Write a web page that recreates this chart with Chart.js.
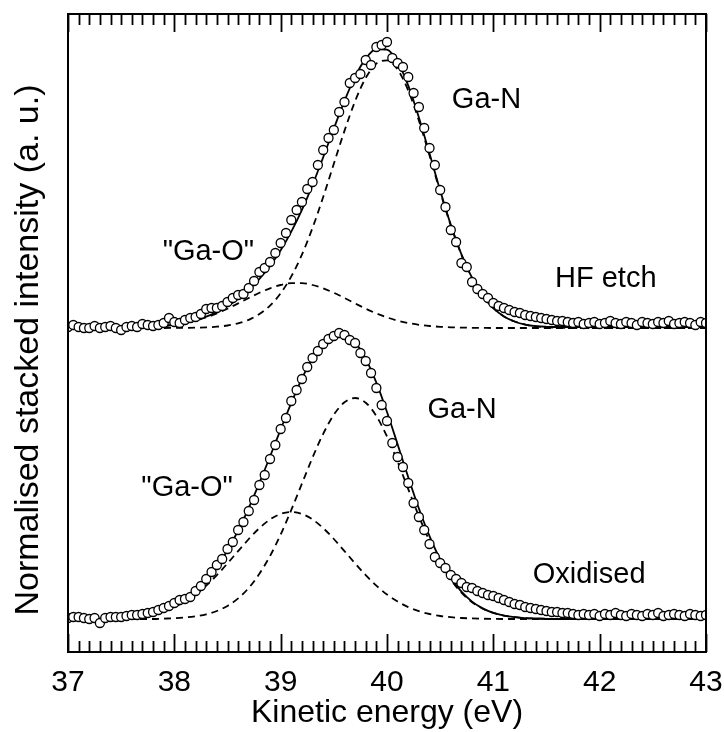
<!DOCTYPE html>
<html>
<head>
<meta charset="utf-8">
<script src="https://cdn.jsdelivr.net/npm/chart.js@4.4.0/dist/chart.umd.min.js"></script>
<style>
  html, body { margin: 0; padding: 0; background: #fff; }
</style>
</head>
<body>
<canvas id="xpsChart" width="724" height="732"></canvas>
<script>
// Ga 3d kinetic energy spectra, HF etch (top) and oxidised (bottom)
const dataStart = 37;
const dataStep = 0.05;
const fitStart = 37;
const fitStep = 0.1;
const xTickLabels = [37, 38, 39, 40, 41, 42, 43];

// stacking offsets (a.u.)
const hfOffset = 324;
const oxOffset = 33;

const hfData = [
  1, 3, 1, 0, 0, 2, 0, 1, 2, 0, -2, 1, 2, 1, 4, 3, 2, 3, 5, 10,
  6, 5, 8, 10, 11, 14, 19, 20, 20, 22, 26, 30, 33, 34, 40, 47, 56, 60, 66, 75,
  85, 95, 108, 118, 126, 139, 146, 163, 178, 190, 198, 216, 226, 245, 250, 254, 268, 263, 281, 283,
  286, 270, 265, 261, 251, 235, 221, 200, 180, 163, 138, 121, 98, 86, 65, 61, 46, 39, 34, 30,
  25, 22, 20, 18, 16, 15, 13, 12, 11, 10, 9, 8, 7, 7, 6, 5, 6, 4, 5, 6,
  4, 5, 7, 5, 4, 6, 5, 3, 6, 5, 4, 6, 5, 7, 4, 5, 6, 5, 3, 6,
  5,
];
const hfFit = [
  0, 0, 0, 0, 0.1, 0.2, 0.4, 0.7, 1.2, 2.0,
  3.3, 5.2, 7.7, 11.3, 15.9, 21.8, 29.3, 38.2, 49.1, 62.1,
  77.7, 96.4, 118.2, 143.2, 170.7, 199.4, 227.1, 251.4, 269.4, 279.0,
  278.3, 265.9, 242.4, 210.6, 174.4, 137.5, 103.2, 73.7, 50.1, 32.3,
  19.9, 11.6, 6.5, 3.4, 1.8, 1.2, 1, 1, 1, 1,
  1, 1, 1, 1, 1, 1, 1, 1, 1, 1, 1,
];
const hfGaN = [
  0, 0, 0, 0, 0, 0, 0, 0, 0, 0,
  0.1, 0.2, 0.3, 0.7, 1.3, 2.5, 4.7, 8.2, 13.9, 22.4,
  34.7, 51.6, 73.4, 100.2, 131.0, 164.2, 197.1, 226.8, 250.1, 264.4,
  267.7, 258.5, 237.4, 207.4, 172.4, 136.3, 102.5, 73.3, 49.9, 32.3,
  19.9, 11.6, 6.5, 3.4, 1.7, 0.8, 0.4, 0.2, 0, 0,
  0, 0, 0, 0, 0, 0, 0, 0, 0, 0, 0,
];
const hfGaO = [
  0, 0, 0, 0, 0.1, 0.2, 0.4, 0.7, 1.2, 2.0,
  3.2, 5.0, 7.4, 10.6, 14.6, 19.3, 24.6, 30.0, 35.2, 39.7,
  43.0, 44.8, 44.8, 43.0, 39.7, 35.2, 30.0, 24.6, 19.3, 14.6,
  10.6, 7.4, 5.0, 3.2, 2.0, 1.2, 0.7, 0.4, 0.2, 0.1,
  0, 0, 0, 0, 0, 0, 0, 0, 0, 0,
  0, 0, 0, 0, 0, 0, 0, 0, 0, 0, 0,
];

const oxData = [
  1, 2, 2, 1, 0, 1, -4, 1, 2, 2, 2, 3, 4, 4, 5, 6, 7, 9, 11, 13,
  16, 19, 20, 22, 28, 33, 40, 47, 54, 60, 70, 77, 89, 97, 108, 119, 134, 144, 160, 174,
  190, 201, 218, 229, 240, 252, 261, 268, 275, 280, 283, 286, 284, 279, 276, 266, 258, 246, 231, 214,
  198, 176, 162, 152, 136, 116, 102, 89, 75, 62, 56, 51, 44, 40, 36, 32, 31, 28, 26, 24,
  23, 21, 19, 17, 15, 14, 12, 11, 10, 9, 8, 7, 7, 6, 6, 5, 4, 5, 4, 5,
  3, 5, 4, 6, 4, 3, 5, 4, 3, 5, 4, 6, 3, 4, 5, 4, 3, 5, 4, 3,
  4,
];
const oxFit = [
  0, 0, 0.1, 0.3, 0.6, 1.0, 1.8, 3.0, 5.0, 8.2,
  12.7, 18.9, 27.2, 38.1, 51.9, 68.7, 88.5, 111.1, 136.1, 162.5,
  189.6, 216.1, 240.5, 261.0, 276.1, 284.3, 284.6, 276.6, 260.2, 236.4,
  207.0, 174.6, 141.7, 110.5, 82.9, 59.6, 41.2, 27.3, 17.4, 10.6,
  6.1, 3.4, 1.8, 0.9, 0.5, 0.2, 0, 0, 0, 0,
  0, 0, 0, 0, 0, 0, 0, 0, 0, 0, 0,
];
const oxGaN = [
  0, 0, 0, 0, 0, 0, 0, 0, 0, 0.4,
  0.8, 1.5, 2.7, 4.7, 8.0, 13.1, 20.6, 31.1, 45.2, 63.0,
  84.5, 109.1, 135.4, 161.5, 185.2, 204.3, 216.7, 221.0, 216.3, 203.0,
  182.5, 157.2, 129.8, 102.7, 77.9, 56.6, 39.4, 26.3, 16.8, 10.3,
  6.1, 3.4, 1.8, 0.9, 0.5, 0.2, 0, 0, 0, 0,
  0, 0, 0, 0, 0, 0, 0, 0, 0, 0, 0,
];
const oxGaO = [
  0, 0, 0.1, 0.3, 0.6, 1.0, 1.8, 3.0, 5.0, 7.8,
  11.9, 17.4, 24.5, 33.4, 43.9, 55.6, 67.9, 80.0, 90.9, 99.5,
  105.1, 107.0, 105.1, 99.5, 90.9, 80.0, 67.9, 55.6, 43.9, 33.4,
  24.5, 17.4, 11.9, 7.8, 5.0, 3.0, 1.8, 1.0, 0.6, 0.3,
  0.1, 0, 0, 0, 0, 0, 0, 0, 0, 0,
  0, 0, 0, 0, 0, 0, 0, 0, 0, 0, 0,
];

const fontFamily = "'Liberation Sans', Arial, Helvetica, sans-serif";

const toPoints = (values, start, step, offset) =>
  values.map((v, i) => ({ x: start + i * step, y: v + offset }));

const markerSet = (values, offset) => ({
  data: toPoints(values, dataStart, dataStep, offset),
  showLine: false,
  pointRadius: 4.5,
  pointBorderWidth: 1.3,
  pointBorderColor: "#000",
  pointBackgroundColor: "#fff",
});

const lineSet = (values, offset, dashed) => ({
  data: toPoints(values, fitStart, fitStep, offset),
  showLine: true,
  borderColor: "#000",
  borderWidth: 1.8,
  borderDash: dashed ? [7, 5] : [],
  pointRadius: 0,
  cubicInterpolationMode: "monotone",
  fill: false,
});

const isMajor = (v) => Math.abs(v - Math.round(v)) < 1e-6;

// text labels placed at data coordinates
const notes = [
  { text: "Ga-N", x: 40.61, y: 544 },
  { text: "\"Ga-O\"", x: 37.89, y: 392 },
  { text: "HF etch", x: 41.58, y: 365 },
  { text: "Ga-N", x: 40.38, y: 234 },
  { text: "\"Ga-O\"", x: 37.69, y: 156 },
  { text: "Oxidised", x: 41.37, y: 69 },
];

const framePlugin = {
  id: "frame",
  afterDraw(chart) {
    const { ctx, chartArea: a, scales } = chart;
    const x = scales.x;
    const y = scales.y;
    ctx.save();
    ctx.strokeStyle = "#000";
    ctx.lineWidth = 2;
    ctx.strokeRect(a.left, a.top, a.right - a.left, a.bottom - a.top);

    // inward ticks on bottom and top
    ctx.lineWidth = 1.8;
    x.ticks.forEach((t) => {
      const px = Math.round(x.getPixelForValue(t.value)) + 0.5;
      const len = isMajor(t.value) ? 18 : 11;
      ctx.beginPath();
      ctx.moveTo(px, a.bottom);
      ctx.lineTo(px, a.bottom - len);
      ctx.moveTo(px, a.top);
      ctx.lineTo(px, a.top + len);
      ctx.stroke();
    });

    ctx.fillStyle = "#000";
    ctx.font = "29px " + fontFamily;
    ctx.textAlign = "left";
    ctx.textBaseline = "alphabetic";
    notes.forEach((n) => {
      ctx.fillText(n.text, x.getPixelForValue(n.x), y.getPixelForValue(n.y));
    });

    ctx.translate(29, 350);
    ctx.rotate(-Math.PI / 2);
    ctx.font = "34px " + fontFamily;
    ctx.textAlign = "center";
    ctx.textBaseline = "middle";
    ctx.fillText("Normalised stacked intensity (a. u.)", 0, 0);
    ctx.restore();
  },
};

const ctx = document.getElementById("xpsChart").getContext("2d");
const xpsChart = new Chart(ctx, {
  type: "scatter",
  data: {
    datasets: [
      markerSet(hfData, hfOffset),
      markerSet(oxData, oxOffset),
      lineSet(hfFit, hfOffset, false),
      lineSet(oxFit, oxOffset, false),
      lineSet(hfGaN, hfOffset, true),
      lineSet(hfGaO, hfOffset, true),
      lineSet(oxGaN, oxOffset, true),
      lineSet(oxGaO, oxOffset, true),
    ],
  },
  options: {
    responsive: false,
    animation: false,
    devicePixelRatio: 1,
    layout: { padding: { left: 68, top: 14, right: 18, bottom: 0 } },
    plugins: {
      legend: { display: false },
      tooltip: { enabled: false },
    },
    scales: {
      x: {
        type: "linear",
        min: 37,
        max: 43,
        grid: { display: false },
        border: { display: false },
        ticks: {
          stepSize: 0.1,
          autoSkip: false,
          maxRotation: 0,
          padding: 5,
          color: "#000",
          font: { family: fontFamily, size: 30 },
          callback: (v) => (isMajor(v) && xTickLabels.includes(Math.round(v)) ? String(Math.round(v)) : ""),
        },
        title: {
          display: true,
          text: "Kinetic energy (eV)",
          color: "#000",
          font: { family: fontFamily, size: 32 },
          padding: { top: 0, bottom: 0 },
        },
        afterFit: (scale) => {
          scale.height = 80;
          scale.paddingLeft = 0;
          scale.paddingRight = 0;
        },
      },
      y: {
        type: "linear",
        min: 0,
        max: 638,
        display: false,
      },
    },
  },
  plugins: [framePlugin],
});
</script>
</body>
</html>
